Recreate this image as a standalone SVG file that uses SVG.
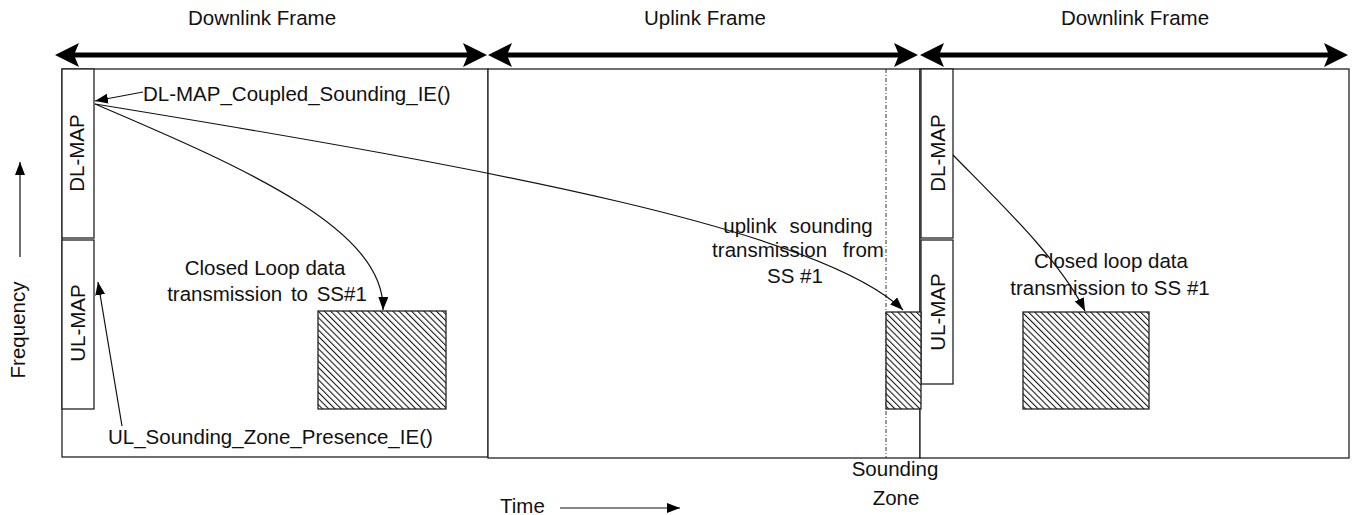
<svg xmlns="http://www.w3.org/2000/svg" width="1353" height="515" viewBox="0 0 1353 515">
<style>
  text { font-family: "Liberation Sans", Arial, sans-serif; font-size: 20.5px; fill: #111; }
  .frame { fill: #fff; stroke: #222; stroke-width: 1.3; }
  .map { fill: #fff; stroke: #222; stroke-width: 1.3; }
  .hatch { fill: url(#hatch); stroke: #222; stroke-width: 1.3; }
  .conn { fill: none; stroke: #111; stroke-width: 1.2; marker-end: url(#ah); }
  .big { fill: none; stroke: #000; stroke-width: 5; marker-start: url(#bh); marker-end: url(#bh); }
  .zone { stroke: #333; stroke-width: 1; stroke-dasharray: 4 2 1 2; }
</style>
<defs>
  <pattern id="hatch" width="4.4" height="4.4" patternUnits="userSpaceOnUse" patternTransform="rotate(-45)">
    <rect width="4.4" height="4.4" fill="#fff"/>
    <line x1="0.5" y1="0" x2="0.5" y2="4.4" stroke="#111" stroke-width="1.1"/>
  </pattern>
  <marker id="ah" markerUnits="userSpaceOnUse" markerWidth="14" markerHeight="12" refX="13" refY="5" orient="auto">
    <path d="M0,0 L13,5 L0,10 Z" fill="#000"/>
  </marker>
  <marker id="bh" markerUnits="userSpaceOnUse" markerWidth="26" markerHeight="26" refX="14" refY="12" orient="auto-start-reverse">
    <path d="M0,0 L24,12 L0,24 L5,12 Z" fill="#000"/>
  </marker>
</defs>

<g id="titles">
  <text x="262" y="25" text-anchor="middle">Downlink Frame</text>
  <text x="705" y="25" text-anchor="middle">Uplink Frame</text>
  <text x="1135" y="25" text-anchor="middle">Downlink Frame</text>
</g>

<g id="frame-dl1">
  <rect class="frame" x="62" y="69" width="426" height="388"/>
</g>
<g id="frame-ul">
  <rect class="frame" x="488" y="69" width="432" height="389"/>
  <line class="zone" x1="886" y1="69" x2="886" y2="458"/>
</g>
<g id="frame-dl2">
  <rect class="frame" x="920" y="69" width="429" height="389"/>
</g>

<g id="dlmap1">
  <rect class="map" x="62" y="69" width="32" height="169"/>
  <text transform="translate(84,153) rotate(-90)" text-anchor="middle">DL-MAP</text>
</g>
<g id="ulmap1">
  <rect class="map" x="62" y="240" width="32" height="169"/>
  <text transform="translate(85,323) rotate(-90)" text-anchor="middle">UL-MAP</text>
</g>
<g id="dlmap2">
  <rect class="map" x="921" y="69" width="32" height="169"/>
  <text transform="translate(945,153) rotate(-90)" text-anchor="middle">DL-MAP</text>
</g>
<g id="ulmap2">
  <rect class="map" x="921" y="240" width="32" height="144"/>
  <text transform="translate(945,312) rotate(-90)" text-anchor="middle">UL-MAP</text>
</g>

<g id="data1">
  <rect class="hatch" x="318" y="311" width="128" height="98"/>
</g>
<g id="sounding">
  <rect class="hatch" x="886" y="312" width="35" height="97"/>
</g>
<g id="data2">
  <rect class="hatch" x="1023" y="312" width="126" height="97"/>
</g>

<g id="labels">
  <text x="143" y="101">DL-MAP_Coupled_Sounding_IE()</text>
  <text x="108" y="444">UL_Sounding_Zone_Presence_IE()</text>
  <text x="265" y="275" text-anchor="middle">Closed Loop data</text>
  <text x="267" y="301" text-anchor="middle" word-spacing="3">transmission to SS#1</text>
  <text x="798" y="233" text-anchor="middle" word-spacing="7">uplink sounding</text>
  <text x="798" y="257" text-anchor="middle" word-spacing="10">transmission from</text>
  <text x="795" y="283" text-anchor="middle">SS #1</text>
  <text x="1111" y="268" text-anchor="middle">Closed loop data</text>
  <text x="1110" y="295" text-anchor="middle">transmission to SS #1</text>
  <text x="895" y="476" text-anchor="middle">Sounding</text>
  <text x="896" y="505" text-anchor="middle">Zone</text>
  <text transform="translate(25,330) rotate(-90)" text-anchor="middle">Frequency</text>
  <text x="500" y="513">Time</text>
</g>

<g id="connectors">
  <line class="big" x1="65" y1="55" x2="477" y2="55"/>
  <line class="big" x1="498" y1="55" x2="908" y2="55"/>
  <line class="big" x1="930" y1="55" x2="1338" y2="55"/>
  <line class="conn" x1="143" y1="92" x2="95" y2="101"/>
  <line class="conn" x1="122" y1="426" x2="98" y2="282"/>
  <path class="conn" d="M95,104 C250,170 385,230 383,310"/>
  <path class="conn" d="M95,104 C500,170 820,230 903,310"/>
  <path class="conn" d="M953,155 C1000,203 1060,260 1085,311"/>
  <line class="conn" x1="20" y1="257" x2="20" y2="162"/>
  <line class="conn" x1="560" y1="508" x2="680" y2="508"/>
</g>
</svg>
